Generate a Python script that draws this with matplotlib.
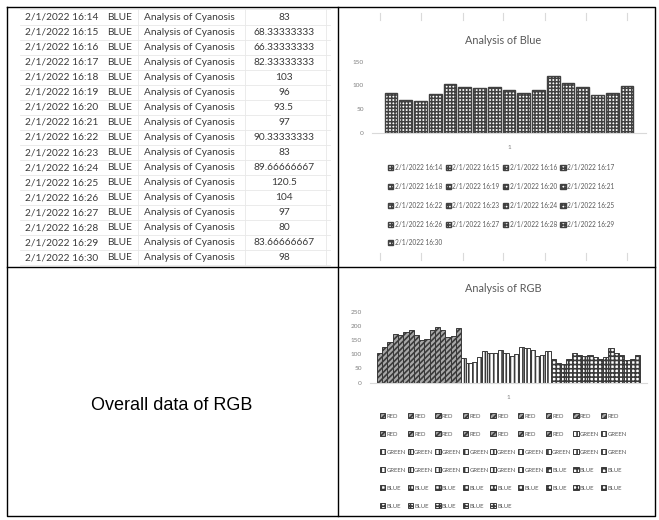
import numpy as np
import matplotlib
matplotlib.use("Agg")
import matplotlib.pyplot as plt

# table / chart data
times = ['2/1/2022 16:14', '2/1/2022 16:15', '2/1/2022 16:16', '2/1/2022 16:17',
         '2/1/2022 16:18', '2/1/2022 16:19', '2/1/2022 16:20', '2/1/2022 16:21',
         '2/1/2022 16:22', '2/1/2022 16:23', '2/1/2022 16:24', '2/1/2022 16:25',
         '2/1/2022 16:26', '2/1/2022 16:27', '2/1/2022 16:28', '2/1/2022 16:29',
         '2/1/2022 16:30']
blue_text = ['83', '68.33333333', '66.33333333', '82.33333333', '103', '96', '93.5',
             '97', '90.33333333', '83', '89.66666667', '120.5', '104', '97', '80',
             '83.66666667', '98']
blue = [float(s) for s in blue_text]
red = [105, 127, 145, 170, 167, 178, 186, 168, 150, 153, 187, 197, 187, 162, 165, 193]
green = [88, 71, 72, 90, 112, 106, 106, 114, 106, 93, 100, 127, 123, 114, 93, 97, 111]

blue_ticks = [0, 50, 100, 150]
rgb_ticks = [0, 50, 100, 150, 200, 250]

W, H = 659, 520
fig = plt.figure(figsize=(W / 100, H / 100), dpi=100)
fig.patch.set_facecolor('white')

# background axes in pixel coords for table, borders and the caption
bg = fig.add_axes([0, 0, 1, 1])
bg.set_xlim(0, W)
bg.set_ylim(H, 0)
bg.axis('off')

txt = '#3a3a3a'
row0, rowh = 17, 15.06
for i in range(len(times)):
    y = row0 + i * rowh
    bg.text(25, y, times[i], fontsize=7.3, family='Lato', color=txt, va='center')
    bg.text(107, y, 'BLUE', fontsize=7.3, family='Lato', color=txt, va='center')
    bg.text(144, y, 'Analysis of Cyanosis', fontsize=7.3, family='Lato', color=txt, va='center')
    bg.text(284, y, blue_text[i], fontsize=7.3, family='Lato', color=txt, va='center', ha='center')
# faint spreadsheet grid
for k in range(len(times) + 1):
    y = row0 - rowh / 2 + k * rowh
    bg.plot([20, 330], [y, y], color='#e8e8e8', lw=0.6)
for x in [138, 245, 326]:
    bg.plot([x, x], [row0 - rowh / 2, row0 + (len(times) - 0.5) * rowh], color='#e8e8e8', lw=0.6)

# cell borders
bg.plot([7, 655, 655, 7, 7], [7, 7, 516, 516, 7], color='black', lw=1.0)
bg.plot([338, 338], [7, 516], color='black', lw=1.0)
bg.plot([7, 655], [267, 267], color='black', lw=1.0)

bg.text(172, 405, 'Overall data of RGB', fontsize=13, family='Liberation Sans',
        color='black', ha='center', va='center')

# faint chart frame handles
for x in [380, 421, 463, 503, 545, 586, 627]:
    bg.plot([x, x], [13, 20], color='#dadada', lw=0.8)
    bg.plot([x, x], [253, 260], color='#dadada', lw=0.8)

grey = '#7f7f7f'


def style_axes(ax, ticks):
    for s in ['top', 'right', 'left']:
        ax.spines[s].set_visible(False)
    ax.spines['bottom'].set_color('#d9d9d9')
    ax.spines['bottom'].set_linewidth(0.8)
    ax.set_yticks(ticks)
    ax.set_ylim(ticks[0], ticks[-1])
    ax.set_xlim(-0.5, 0.5)
    ax.set_xticks([0])
    ax.set_xticklabels(['1'])
    ax.tick_params(length=0, labelsize=4.6, labelcolor=grey, pad=9)
    ax.tick_params(axis='y', pad=6)
    for t in ax.get_xticklabels() + ax.get_yticklabels():
        t.set_family('Lato')


def col_major(items, ncol):
    out = []
    for c in range(ncol):
        out += items[c::ncol]
    return out


plt.rcParams['hatch.linewidth'] = 1.1

# Analysis of Blue
ax1 = fig.add_axes([372 / W, 1 - 132.7 / H, 274 / W, 71 / H])
n = len(blue)
slot = 0.916 / n
xs = (np.arange(n) - (n - 1) / 2) * slot
bars = []
for i in range(n):
    b = ax1.bar(xs[i], blue[i], slot * 0.86, facecolor='white', edgecolor='#404040',
                hatch='+++++', lw=1.0, label=times[i])
    bars.append(b)
style_axes(ax1, blue_ticks)
fig.text(503 / W, 1 - 40 / H, 'Analysis of Blue', fontsize=7.8, family='Lato',
         color='#595959', ha='center', va='center')
leg1 = ax1.legend(col_major(bars, 4), col_major(times, 4), ncol=4, loc='upper left',
                  bbox_to_anchor=(385 / W, 1 - 161 / H), bbox_transform=fig.transFigure,
                  frameon=False, prop={'family': 'Lato', 'size': 4.7},
                  handlelength=0.8, handleheight=0.8, handletextpad=0.2,
                  columnspacing=0.55, labelspacing=1.8, borderpad=0)
for t in leg1.get_texts():
    t.set_color('#595959')

# Analysis of RGB
plt.rcParams['hatch.linewidth'] = 1.2
ax2 = fig.add_axes([370 / W, 1 - 382.7 / H, 277 / W, 71 / H])
vals = red + green + blue
labels = ['RED'] * len(red) + ['GREEN'] * len(green) + ['BLUE'] * len(blue)
styles = {'RED': ('#a8a8a8', '//////'), 'GREEN': ('white', '||||'), 'BLUE': ('white', '++++')}
m = len(vals)
slot2 = 0.95 / m
xs2 = (np.arange(m) - (m - 1) / 2) * slot2
bars2 = []
for i in range(m):
    fc, hatch = styles[labels[i]]
    b = ax2.bar(xs2[i], vals[i], slot2, facecolor=fc, edgecolor='#3a3a3a',
                hatch=hatch, lw=0.7, label=labels[i])
    bars2.append(b)
style_axes(ax2, rgb_ticks)
fig.text(503 / W, 1 - 288 / H, 'Analysis of RGB', fontsize=7.8, family='Lato',
         color='#595959', ha='center', va='center')
leg2 = ax2.legend(col_major(bars2, 9), col_major(labels, 9), ncol=9, loc='upper left',
                  bbox_to_anchor=(377 / W, 1 - 410 / H), bbox_transform=fig.transFigure,
                  frameon=False, prop={'family': 'Lato', 'size': 4.3},
                  handlelength=0.9, handleheight=0.9, handletextpad=0.2,
                  columnspacing=0.3, labelspacing=2.1, borderpad=0)
for t in leg2.get_texts():
    t.set_color('#595959')

fig.savefig('out.png', dpi=100)
